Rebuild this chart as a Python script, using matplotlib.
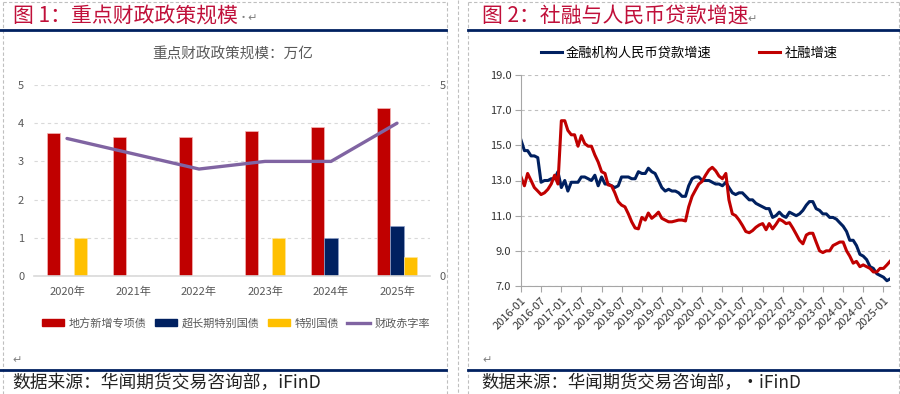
import matplotlib
matplotlib.use("Agg")
import matplotlib.pyplot as plt
from matplotlib.lines import Line2D
from matplotlib.patches import Patch
from matplotlib.ticker import FormatStrFormatter
import numpy as np
import pandas as pd

plt.rcParams['font.family'] = ['Noto Sans CJK SC', 'DejaVu Sans']

# ---- data: chart 1 (万亿 / %) ----
years = ["2020年", "2021年", "2022年", "2023年", "2024年", "2025年"]
local_special_bonds = [3.75, 3.65, 3.65, 3.8, 3.9, 4.4]
ultra_long_bonds = [0, 0, 0, 0, 1.0, 1.3]
special_bonds = [1.0, 0, 0, 1.0, 0, 0.5]
deficit_rate = [3.6, 3.2, 2.8, 3.0, 3.0, 4.0]

# ---- data: chart 2 (%), monthly 2016-01 .. 2025-03 ----
loan_growth = [
    15.3, 14.7, 14.7, 14.4, 14.4, 14.3, 12.9, 13.0, 13.0, 13.1, 13.1, 13.5,
    12.6, 13.0, 12.4, 12.9, 12.9, 12.9, 13.2, 13.2, 13.1, 13.0, 13.3, 12.7,
    13.2, 12.8, 12.8, 12.7, 12.6, 12.7, 13.2, 13.2, 13.2, 13.1, 13.1, 13.5,
    13.4, 13.4, 13.7, 13.5, 13.4, 13.0, 12.6, 12.4, 12.5, 12.4, 12.4, 12.3,
    12.1, 12.1, 12.7, 13.1, 13.2, 13.2, 13.0, 13.0, 13.0, 12.9, 12.8, 12.8,
    12.7, 12.9, 12.6, 12.3, 12.2, 12.3, 12.3, 12.1, 11.9, 11.9, 11.7, 11.6,
    11.5, 11.4, 11.4, 10.9, 11.0, 11.2, 11.0, 10.9, 11.2, 11.1, 11.0, 11.1,
    11.3, 11.6, 11.8, 11.8, 11.4, 11.3, 11.1, 11.1, 10.9, 10.9, 10.8, 10.6,
    10.4, 10.1, 9.6, 9.6, 9.3, 8.8, 8.7, 8.5, 8.1, 8.0, 7.7, 7.6,
    7.5, 7.3, 7.4,
]
tsf_growth = [
    13.2, 12.7, 13.4, 13.0, 12.6, 12.4, 12.2, 12.3, 12.5, 12.8, 13.3, 12.8,
    16.4, 16.4, 15.85, 15.6, 15.6, 14.95, 15.55, 15.1, 14.95, 14.95, 14.45, 14.05,
    13.5, 13.4, 12.75, 12.7, 12.3, 11.8, 11.6, 11.5, 11.1, 10.65, 10.3, 10.25,
    10.9, 10.75, 11.15, 10.85, 11.0, 11.2, 10.85, 10.75, 10.65, 10.65, 10.7, 10.75,
    10.75, 10.7, 11.5, 12.1, 12.45, 12.8, 12.95, 13.3, 13.6, 13.75, 13.55, 13.25,
    13.1, 13.4, 11.9, 11.1, 11.0, 10.75, 10.45, 10.1, 10.03, 10.15, 10.34, 10.47,
    10.55, 10.2, 10.55, 10.25, 10.5, 10.8, 10.7, 10.55, 10.6, 10.3, 9.95, 9.6,
    9.4, 9.9, 10.0, 10.0, 9.5, 9.0, 8.9, 9.0, 9.0, 9.3, 9.4, 9.5,
    9.5, 9.0, 8.7, 8.3, 8.4, 8.1, 8.2, 8.1, 8.0, 7.8, 7.8, 8.0,
    8.0, 8.2, 8.4,
]
months = pd.date_range("2016-01-01", periods=len(loan_growth), freq="MS")

NAVY = "#002060"
RED = "#C00000"
YELLOW = "#FFC000"
PURPLE = "#8064A2"
GRAY_TXT = "#595959"
TITLE_RED = "#C0103A"

W, H = 900, 394
fig = plt.figure(figsize=(W / 100, H / 100), dpi=100)


def px(x0, y0, x1, y1):
    """pixel box (top-left origin) -> figure rect"""
    return [x0 / W, 1 - y1 / H, (x1 - x0) / W, (y1 - y0) / H]


def fline(xs, ys, **kw):
    fig.add_artist(Line2D([x / W for x in xs], [1 - y / H for y in ys],
                          transform=fig.transFigure, **kw))


def ftext(x, y, s, **kw):
    fig.text(x / W, 1 - y / H, s, **kw)


# ---- page decoration: cell borders, rules, captions ----
dash = dict(color="#BFBFBF", lw=0.8, ls=(0, (3, 2)))
fline([3, 446], [2, 2], **dash)
fline([3, 3], [2, 394], **dash)
fline([446.5, 446.5], [2, 394], **dash)
fline([457.5, 457.5], [0, 394], **dash)
fline([468, 468], [2, 394], **dash)
fline([468, 899], [2, 2], **dash)
fline([899, 899], [2, 394], **dash)

fline([0, 446], [30, 30], color=NAVY, lw=2)
fline([468, 899], [30, 30], color=NAVY, lw=2)
fline([0, 446], [370, 370], color=NAVY, lw=2)
fline([468, 899], [370, 370], color=NAVY, lw=2)

ftext(13, 16, "图 1：重点财政政策规模", fontsize=15, color=TITLE_RED, va="center")
ftext(238, 18, "·↵", fontsize=8, color="#7F7F7F", va="center")
ftext(482, 16, "图 2：社融与人民币贷款增速", fontsize=15, color=TITLE_RED, va="center")
ftext(747, 19, "↵", fontsize=8, color="#7F7F7F", va="center")

ftext(12, 383, "数据来源：华闻期货交易咨询部，iFinD", fontsize=12.8, color="#222222", va="center")
ftext(481, 383, "数据来源：华闻期货交易咨询部，·iFinD", fontsize=12.5, color="#222222", va="center")
ftext(12, 360, "↵", fontsize=8, color="#7F7F7F", va="center")
ftext(482, 360, "↵", fontsize=8, color="#7F7F7F", va="center")

# ---- chart 1: bars + deficit line ----
ax1 = fig.add_axes(px(34, 85, 430, 276))
x = np.arange(len(years))
bw = 0.2
ax1.bar(x - bw, local_special_bonds, bw, color=RED, edgecolor="#F4B6B6", lw=0.5)
ax1.bar(x, ultra_long_bonds, bw, color=NAVY, edgecolor="#8EA0C8", lw=0.5)
ax1.bar(x + bw, special_bonds, bw, color=YELLOW, edgecolor="#FFE699", lw=0.5)
ax1.set_xlim(-0.5, len(years) - 0.5)
ax1.set_ylim(0, 5)
ax1.set_yticks(range(0, 6))
ax1.set_xticks(x)
ax1.set_xticklabels(years)
ax1.grid(axis="y", color="#D9D9D9", ls=(0, (3, 3)), lw=0.8)
ax1.set_axisbelow(True)
for s in ["top", "right", "left"]:
    ax1.spines[s].set_visible(False)
ax1.spines["bottom"].set_color("#D9D9D9")
ax1.spines["bottom"].set_linewidth(1.2)
ax1.tick_params(axis="both", length=0, labelsize=8, colors=GRAY_TXT)
ax1.tick_params(axis="x", pad=8)
ax1.tick_params(axis="y", pad=7)

ax1b = ax1.twinx()
ax1b.plot(x, deficit_rate, color=PURPLE, lw=2.4, solid_capstyle="round")
ax1b.set_ylim(0, 5)
ax1b.set_yticks([0, 5])
for s in ax1b.spines.values():
    s.set_visible(False)
ax1b.tick_params(axis="y", length=0, labelsize=8, colors=GRAY_TXT, pad=7)

ftext(233, 55, "重点财政政策规模：万亿", fontsize=10.5, color=GRAY_TXT, ha="center", va="center")

handles1 = [Patch(color=RED), Patch(color=NAVY), Patch(color=YELLOW),
            Line2D([], [], color=PURPLE, lw=2.4)]
labels1 = ["地方新增专项债", "超长期特别国债", "特别国债", "财政赤字率"]
ax1.legend(handles1, labels1, ncol=4, frameon=False, loc="center",
           bbox_to_anchor=(236 / W, 1 - 323 / H), bbox_transform=fig.transFigure,
           fontsize=8, labelcolor=GRAY_TXT, handlelength=2.0, handleheight=0.55,
           handletextpad=0.4, columnspacing=0.75)

# ---- chart 2: loan vs TSF growth ----
ax2 = fig.add_axes(px(521, 75, 890, 286))
ax2.plot(months, loan_growth, color=NAVY, lw=2.2, label="金融机构人民币贷款增速")
ax2.plot(months, tsf_growth, color=RED, lw=2.2, label="社融增速")
ax2.set_ylim(7, 19)
ax2.set_yticks(np.arange(7, 19.1, 2))
ax2.yaxis.set_major_formatter(FormatStrFormatter("%.1f"))
ax2.set_xlim(months[0], months[-1])
xt = pd.date_range("2016-01-01", "2025-01-01", freq="6MS")
ax2.set_xticks(xt)
ax2.set_xticklabels([d.strftime("%Y-%m") for d in xt], rotation=45, ha="right",
                    rotation_mode="anchor", fontsize=8, color="#333333")
ax2.grid(axis="y", color="#BFBFBF", ls=(0, (3, 3)), lw=0.8)
for s in ["top", "right"]:
    ax2.spines[s].set_visible(False)
ax2.spines["left"].set_color("#A6A6A6")
ax2.spines["bottom"].set_color("#A6A6A6")
ax2.tick_params(axis="y", length=4, direction="out", colors="#A6A6A6",
                labelcolor="#333333", labelsize=8, pad=3)
ax2.tick_params(axis="x", length=4, direction="out", colors="#A6A6A6",
                labelcolor="#333333", pad=3)
ax2.legend(ncol=2, frameon=False, loc="center",
           bbox_to_anchor=(689 / W, 1 - 53 / H), bbox_transform=fig.transFigure,
           fontsize=9.5, handlelength=1.6, handletextpad=0.3, columnspacing=3.6)

fig.savefig("out.png", dpi=100)
